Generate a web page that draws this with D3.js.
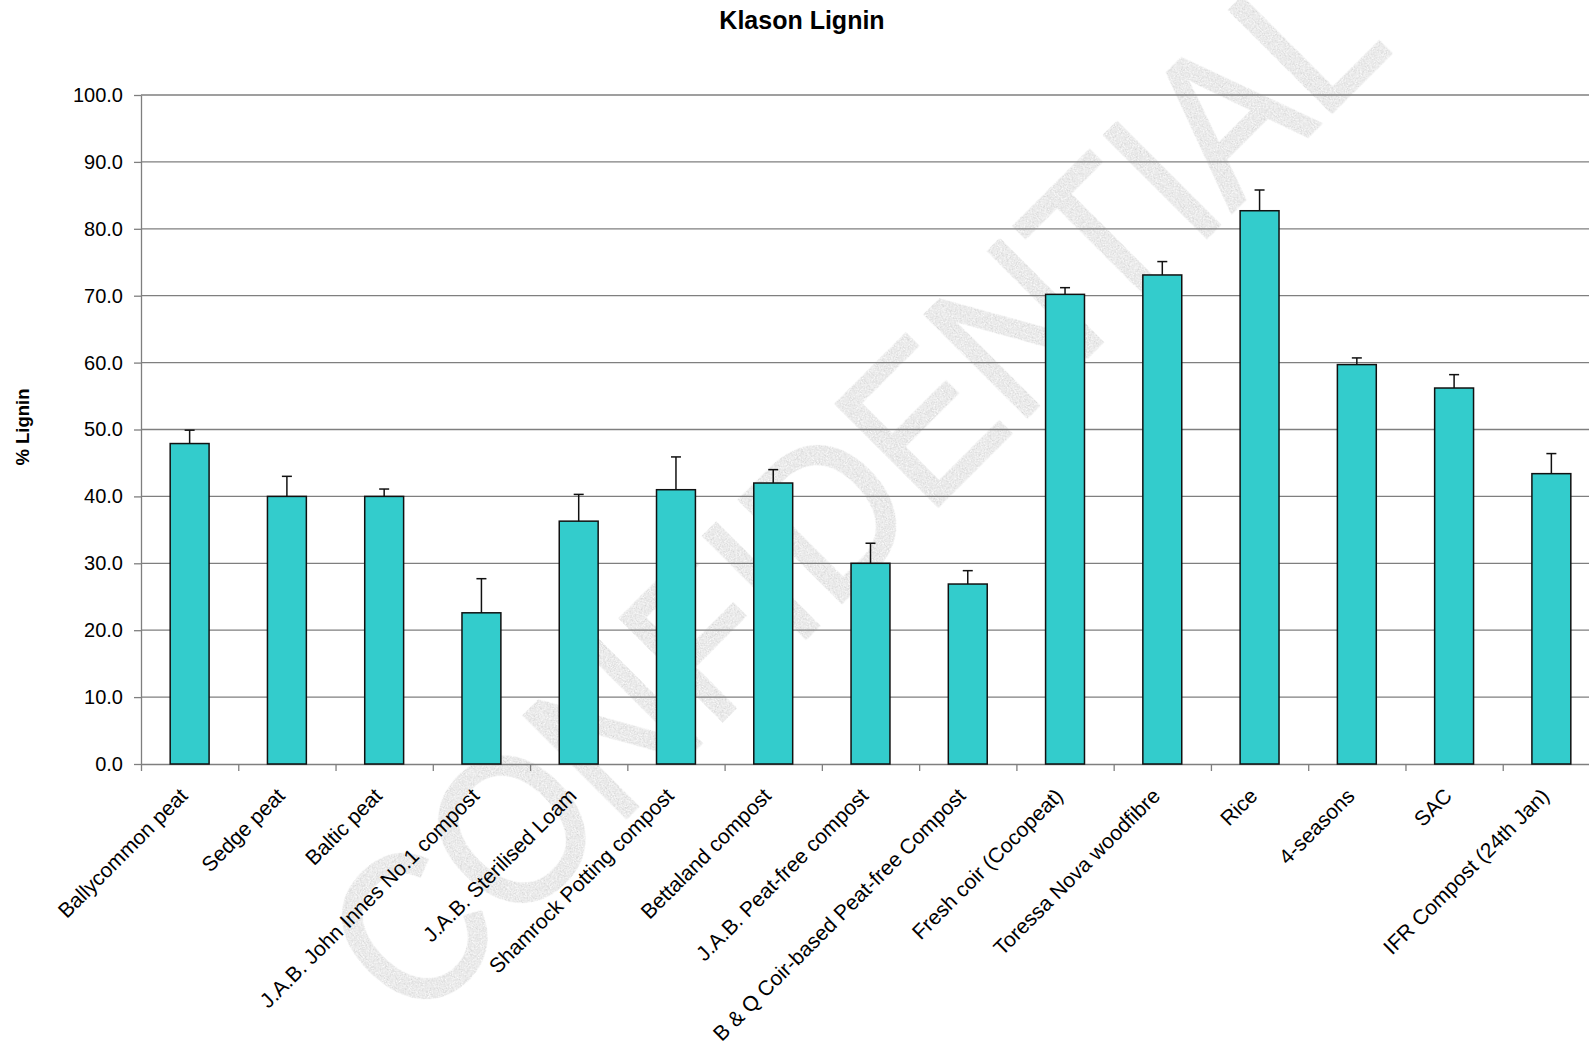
<!DOCTYPE html>
<html>
<head>
<meta charset="utf-8">
<script src="https://cdn.jsdelivr.net/npm/d3@7"></script>
<style>
  html, body { margin: 0; padding: 0; background: #fff; }
  svg { display: block; font-family: "Liberation Sans", Arial, sans-serif; }
</style>
</head>
<body>
<svg id="chart" width="1589" height="1043"></svg>
<script>
const categories = [
  "Ballycommon peat", "Sedge peat", "Baltic peat", "J.A.B. John Innes No.1 compost",
  "J.A.B. Sterilised Loam", "Shamrock Potting compost", "Bettaland compost",
  "J.A.B. Peat-free compost", "B & Q Coir-based Peat-free Compost", "Fresh coir (Cocopeat)",
  "Toressa Nova woodfibre", "Rice", "4-seasons", "SAC", "IFR Compost (24th Jan)"
];
const values = [47.9, 40.0, 40.0, 22.6, 36.3, 41.0, 42.0, 30.0, 26.9, 70.2, 73.1, 82.7, 59.7, 56.2, 43.4];
const errors = [2.0, 3.0, 1.1, 5.1, 4.0, 4.9, 2.0, 3.0, 2.0, 1.0, 2.0, 3.1, 1.0, 2.0, 3.0];
const yTicks = [0, 10, 20, 30, 40, 50, 60, 70, 80, 90, 100];
const chartTitle = "Klason Lignin";
const yTitle = "% Lignin";
const watermark = "CONFIDENTIAL";

(function () {
const svg = d3.select("#chart");
const pLeft = 141, pRight = 1600, pTop = 95, pBottom = 764;

const x = d3.scaleBand().domain(categories).range([pLeft, pRight]).paddingInner(0.6).paddingOuter(0.3);
const xEdge = d3.scaleLinear().domain([0, categories.length]).range([pLeft, pRight]);
const y = d3.scaleLinear().domain([0, 100]).range([pBottom, pTop]);

// watermark (behind everything)
const defs = svg.append("defs");
const f = defs.append("filter").attr("id", "speckle").attr("x", "-5%").attr("y", "-5%").attr("width", "110%").attr("height", "110%");
f.append("feTurbulence").attr("type", "fractalNoise").attr("baseFrequency", "0.9").attr("numOctaves", 2).attr("seed", 3).attr("result", "noise");
f.append("feColorMatrix").attr("in", "noise").attr("type", "matrix")
  .attr("values", "0.55 0 0 0 0.55  0.55 0 0 0 0.55  0.55 0 0 0 0.55  0 0 0 0 1").attr("result", "gray");
f.append("feComposite").attr("in", "gray").attr("in2", "SourceGraphic").attr("operator", "in");

svg.append("text")
  .attr("transform", "translate(415,1029) rotate(-45)")
  .attr("font-size", 210)
  .attr("textLength", 1386)
  .attr("lengthAdjust", "spacingAndGlyphs")
  .attr("fill", "#ccc")
  .attr("stroke", "#ccc")
  .attr("stroke-width", 3)
  .attr("filter", "url(#speckle)")
  .text(watermark);

// gridlines
svg.append("g").selectAll("line").data(yTicks.filter(d => d > 0)).join("line")
  .attr("x1", pLeft).attr("x2", pRight)
  .attr("y1", d => y(d)).attr("y2", d => y(d))
  .attr("stroke", "#7f7f7f").attr("stroke-width", 1.3);

// y axis
const yAxis = svg.append("g").attr("transform", `translate(${pLeft},0)`)
  .call(d3.axisLeft(y).tickValues(yTicks).tickFormat(d3.format(".1f")).tickSize(7).tickSizeOuter(0).tickPadding(11));
yAxis.selectAll("path, line").attr("stroke", "#7f7f7f").attr("stroke-width", 1.3);
yAxis.selectAll("text").attr("font-size", 20).attr("fill", "#000").attr("font-family", "'Liberation Sans', Arial, sans-serif");

// x axis (ticks at category boundaries)
const xAxis = svg.append("g").attr("transform", `translate(0,${pBottom})`)
  .call(d3.axisBottom(xEdge).tickValues(d3.range(0, categories.length + 1)).tickFormat("").tickSize(7).tickSizeOuter(0));
xAxis.selectAll("path, line").attr("stroke", "#7f7f7f").attr("stroke-width", 1.3);

// bars
svg.append("g").selectAll("rect").data(categories).join("rect")
  .attr("x", d => x(d))
  .attr("width", x.bandwidth())
  .attr("y", (d, i) => y(values[i]))
  .attr("height", (d, i) => y(0) - y(values[i]))
  .attr("fill", "#33CCCC")
  .attr("stroke", "#111")
  .attr("stroke-width", 1.5);

// error bars (positive only)
const eb = svg.append("g").attr("stroke", "#111").attr("stroke-width", 1.5);
categories.forEach((c, i) => {
  const cx = x(c) + x.bandwidth() / 2;
  eb.append("line").attr("x1", cx).attr("x2", cx).attr("y1", y(values[i])).attr("y2", y(values[i] + errors[i]));
  eb.append("line").attr("x1", cx - 5).attr("x2", cx + 5).attr("y1", y(values[i] + errors[i])).attr("y2", y(values[i] + errors[i]));
});

// x labels
svg.append("g").selectAll("text").data(categories).join("text")
  .attr("transform", d => `translate(${x(d) + x.bandwidth() / 2 - 6},${pBottom + 28}) rotate(-45)`)
  .attr("text-anchor", "end")
  .attr("dy", "0.35em")
  .attr("font-size", 21)
  .attr("fill", "#000")
  .text(d => d);

// y title
svg.append("text")
  .attr("transform", "translate(28.5,427) rotate(-90)")
  .attr("text-anchor", "middle")
  .attr("font-size", 18.5)
  .attr("font-weight", "bold")
  .text(yTitle);

// title
svg.append("text")
  .attr("x", 802).attr("y", 28.5)
  .attr("text-anchor", "middle")
  .attr("font-size", 25)
  .attr("font-weight", "bold")
  .text(chartTitle);
})();
</script>
</body>
</html>
